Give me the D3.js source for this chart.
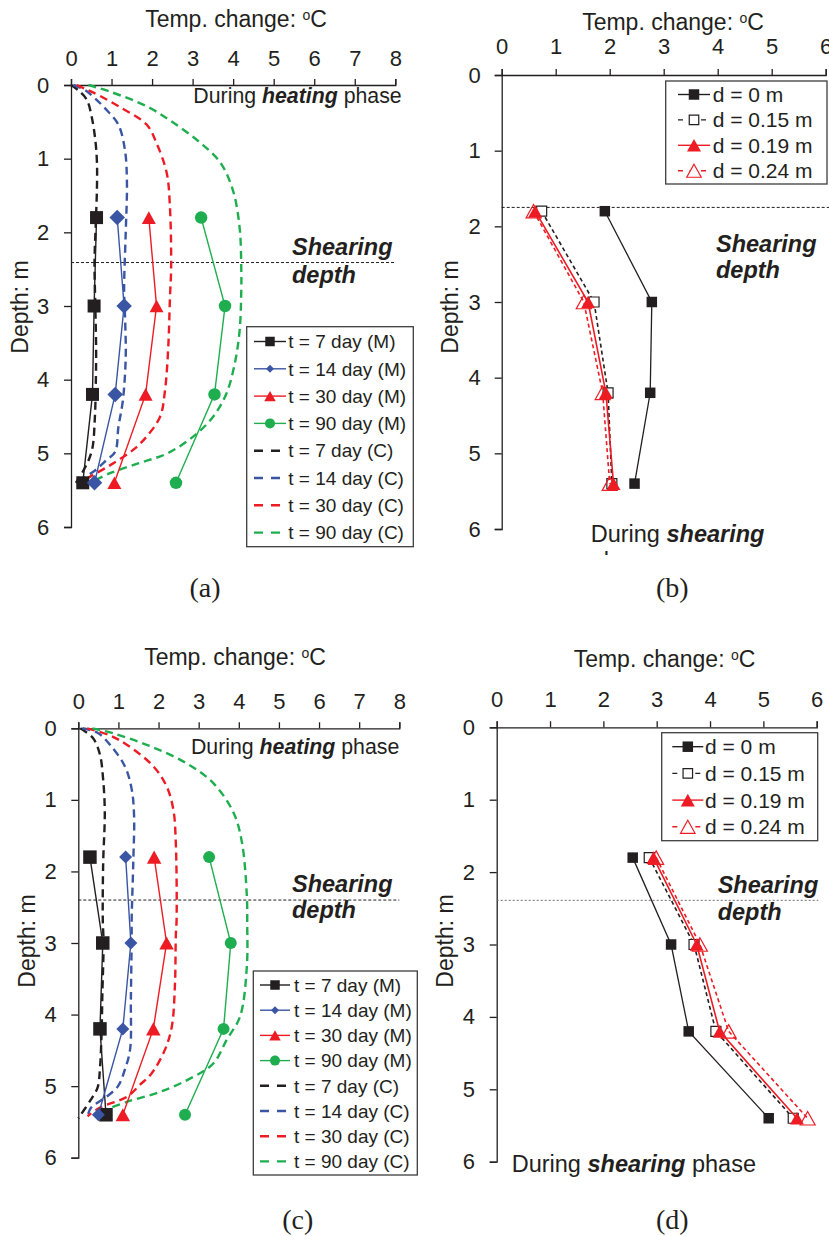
<!DOCTYPE html>
<html>
<head>
<meta charset="utf-8">
<script src="https://cdn.jsdelivr.net/npm/d3@7"></script>
<style>
  html, body { margin: 0; padding: 0; background: #fff; }
  svg { display: block; font-family: "Liberation Sans", Arial, sans-serif; }
</style>
</head>
<body>
<svg id="fig" width="829" height="1236"></svg>
<script>
// ---------------- data ----------------
const depthLevels = [1.8, 3.0, 4.2, 5.4];          // measurement depths (m)
const heatTicksX  = [0, 1, 2, 3, 4, 5, 6, 7, 8];
const shearTicksX = [0, 1, 2, 3, 4, 5, 6];
const depthTicks  = [0, 1, 2, 3, 4, 5, 6];

const heatLegend  = ["t = 7 day (M)", "t = 14 day (M)", "t = 30 day (M)", "t = 90 day (M)",
                     "t = 7 day (C)", "t = 14 day (C)", "t = 30 day (C)", "t = 90 day (C)"];
const shearLegend = ["d = 0 m", "d = 0.15 m", "d = 0.19 m", "d = 0.24 m"];

// (a) measured temperature change at the four depths
const aMeas7  = [0.63, 0.57, 0.53, 0.29];
const aMeas14 = [1.14, 1.31, 1.09, 0.58];
const aMeas30 = [1.92, 2.11, 1.84, 1.07];
const aMeas90 = [3.21, 3.80, 3.54, 2.59];

// (a) computed profiles: [temperature change, depth]
const aCalc7  = [[0.0,0.0],[0.2,0.08],[0.39,0.2],[0.51,0.43],[0.6,0.75],[0.64,1.05],[0.64,1.4],[0.61,1.9],[0.58,2.4],[0.6,3.0],[0.62,3.6],[0.61,4.1],[0.59,4.5],[0.52,4.95],[0.36,5.18],[0.12,5.4]];
const aCalc14 = [[0.06,0.0],[0.35,0.07],[0.59,0.18],[0.88,0.34],[1.17,0.54],[1.33,0.88],[1.38,1.33],[1.35,2.0],[1.31,2.77],[1.33,3.1],[1.35,3.69],[1.28,4.28],[1.17,4.64],[1.09,4.98],[0.88,5.09],[0.55,5.25],[0.1,5.4]];
const aCalc30 = [[0.14,0.0],[0.42,0.07],[0.72,0.15],[1.21,0.3],[1.87,0.54],[2.11,0.79],[2.36,1.19],[2.44,1.65],[2.47,2.47],[2.44,2.9],[2.4,3.55],[2.32,4.14],[2.2,4.5],[1.87,4.77],[1.54,4.95],[0.97,5.16],[0.4,5.34],[0.24,5.4]];
const aCalc90 = [[0.43,0.0],[0.96,0.09],[1.87,0.29],[2.52,0.51],[3.18,0.78],[3.68,1.05],[4.0,1.44],[4.16,1.94],[4.2,2.47],[4.2,2.8],[4.16,3.33],[4.04,3.78],[3.84,4.18],[3.51,4.5],[3.02,4.77],[2.38,5.0],[1.7,5.13],[0.96,5.27],[0.47,5.4]];

// (b) during shearing, distance d from the interface
const bD0  = [1.91, 2.78, 2.75, 2.46];
const bD15 = [0.74, 1.71, 1.97, 2.04];
const bD19 = [0.62, 1.60, 1.93, 2.07];
const bD24 = [0.59, 1.52, 1.87, 2.00];

// (c) measured
const cMeas7  = [0.29, 0.61, 0.54, 0.69];
const cMeas14 = [1.18, 1.31, 1.11, 0.50];
const cMeas30 = [1.89, 2.20, 1.87, 1.11];
const cMeas90 = [3.26, 3.80, 3.62, 2.66];

// (c) computed profiles
const cCalc7  = [[0.05,0.0],[0.37,0.14],[0.54,0.37],[0.62,0.72],[0.66,1.18],[0.62,1.88],[0.61,2.67],[0.63,3.0],[0.6,3.7],[0.58,4.26],[0.54,4.75],[0.48,5.02],[0.3,5.2],[0.0,5.45]];
const cCalc14 = [[0.1,0.0],[0.5,0.07],[0.79,0.23],[1.16,0.53],[1.33,0.85],[1.39,1.22],[1.37,1.87],[1.33,2.67],[1.33,2.9],[1.31,3.79],[1.29,4.49],[1.16,4.77],[0.99,5.0],[0.7,5.15],[0.32,5.3],[0.23,5.42]];
const cCalc30 = [[0.22,0.0],[0.79,0.1],[1.21,0.23],[1.87,0.53],[2.2,0.81],[2.37,1.14],[2.43,1.6],[2.45,2.67],[2.43,2.9],[2.41,3.56],[2.33,4.17],[2.16,4.49],[1.83,4.82],[1.54,4.98],[1.21,5.15],[0.54,5.3],[0.23,5.42]];
const cCalc90 = [[0.35,0.0],[0.87,0.07],[1.79,0.25],[2.7,0.49],[3.37,0.77],[3.87,1.18],[4.08,1.6],[4.2,2.34],[4.21,2.72],[4.2,3.33],[4.03,4.03],[3.7,4.35],[3.37,4.68],[2.87,4.87],[2.04,5.08],[1.21,5.22],[0.54,5.36]];

// (d) during shearing
const dD0  = [2.55, 3.27, 3.60, 5.10];
const dD15 = [2.86, 3.70, 4.11, 5.56];
const dD19 = [2.94, 3.75, 4.18, 5.63];
const dD24 = [2.99, 3.81, 4.35, 5.83];

// ---------------- styling ----------------
const INK = "#231f20", BLUE = "#3a55a4", RED = "#ed1c24", GREEN = "#1fae4f";

// marker shapes for d3.symbol; "size" is the squared bounding width
const symSquare = { draw(ctx, size) { const s = Math.sqrt(size) / 2; ctx.rect(-s, -s, 2 * s, 2 * s); } };
const symDiamond = { draw(ctx, size) { const r = Math.sqrt(size) / 2; ctx.moveTo(0, -r); ctx.lineTo(r, 0); ctx.lineTo(0, r); ctx.lineTo(-r, 0); ctx.closePath(); } };
const symTriangle = { draw(ctx, size) { const w = Math.sqrt(size), h = w * 0.9; ctx.moveTo(0, -h / 2); ctx.lineTo(w / 2, h / 2); ctx.lineTo(-w / 2, h / 2); ctx.closePath(); } };
const symCircle = { draw(ctx, size) { const r = Math.sqrt(size) / 2; ctx.moveTo(r, 0); ctx.arc(0, 0, r, 0, 2 * Math.PI); } };

const svg = d3.select("#fig");
svg.append("rect").attr("width", 829).attr("height", 1236).attr("fill", "#fff");

function axes(g, P) {
  const xa = g.append("g").attr("transform", `translate(0,${P.y0})`)
    .call(d3.axisTop(P.x).tickValues(P.xTicks).tickSize(6).tickPadding(P.xPad).tickFormat(d3.format("d")));
  const ya = g.append("g").attr("transform", `translate(${P.x0},0)`)
    .call(d3.axisLeft(P.y).tickValues(depthTicks).tickSize(7).tickPadding(P.yPad).tickFormat(d3.format("d")));
  [xa, ya].forEach(a => {
    a.attr("font-family", null).attr("font-size", 22);
    a.selectAll("path, line").attr("stroke", INK).attr("stroke-width", 1.3);
    a.selectAll("text").attr("fill", INK);
  });

  const t = g.append("text").attr("x", P.titleX).attr("y", P.titleY)
    .attr("text-anchor", "middle").attr("font-size", 23).attr("fill", INK);
  t.append("tspan").text("Temp. change: ");
  t.append("tspan").attr("font-size", 14).attr("dy", -7).text("o");
  t.append("tspan").attr("dy", 7).text("C");

  g.append("text").attr("transform", `translate(${P.ylabX},${P.ylabY}) rotate(-90)`)
    .attr("text-anchor", "middle").attr("font-size", 23).attr("fill", INK).text("Depth: m");

  // shearing depth marker
  g.append("line").attr("x1", P.x0).attr("x2", P.shearX2)
    .attr("y1", P.y(P.shearDepth)).attr("y2", P.y(P.shearDepth))
    .attr("stroke", P.shearColor).attr("stroke-width", 1).attr("stroke-dasharray", P.shearDash);
  const st = g.append("g").attr("font-size", 23.5).attr("font-weight", "bold").attr("font-style", "italic").attr("fill", INK);
  st.append("text").attr("x", P.shearTextX).attr("y", P.shearTextY1).text("Shearing");
  st.append("text").attr("x", P.shearTextX).attr("y", P.shearTextY2).text("depth");

  g.append("text").attr("x", P.letterX).attr("y", P.letterY).attr("text-anchor", "middle")
    .attr("font-family", "'Liberation Serif', 'Times New Roman', serif").attr("font-size", 28)
    .attr("fill", INK).text(P.letter);
}

function phaseNote(g, x, y, size, anchor, word, rest) {
  const t = g.append("text").attr("x", x).attr("y", y).attr("text-anchor", anchor)
    .attr("font-size", size).attr("fill", INK);
  t.append("tspan").text("During ");
  t.append("tspan").attr("font-weight", "bold").attr("font-style", "italic").text(word);
  if (rest) t.append("tspan").text(rest);
  return t;
}

function heatPanel(P, meas, calc) {
  const g = svg.append("g");
  P.x = d3.scaleLinear().domain([0, 8]).range([P.x0, P.x1]);
  P.y = d3.scaleLinear().domain([0, 6]).range([P.y0, P.y1]);
  axes(g, P);
  phaseNote(g, P.noteX, P.noteY, 21.3, "end", "heating", " phase");

  const colors = [INK, BLUE, RED, GREEN];
  const syms = [symSquare, symDiamond, symTriangle, symCircle];

  // computed profiles (dashed)
  const curve = d3.line().x(d => P.x(d[0])).y(d => P.y(d[1])).curve(d3.curveCatmullRom.alpha(0.5));
  calc.forEach((c, i) => {
    g.append("path").attr("d", curve(c)).attr("fill", "none").attr("stroke", colors[i])
      .attr("stroke-width", 2.4).attr("stroke-dasharray", "8,5");
  });

  // measured profiles (solid with markers)
  const line = d3.line().x(d => P.x(d.v)).y(d => P.y(d.z));
  meas.forEach((m, i) => {
    const pts = m.map((v, k) => ({ v, z: depthLevels[k] }));
    g.append("path").attr("d", line(pts)).attr("fill", "none").attr("stroke", colors[i]).attr("stroke-width", 1.4);
    g.selectAll(null).data(pts).enter().append("path")
      .attr("transform", d => `translate(${P.x(d.v)},${P.y(d.z)})`)
      .attr("d", d3.symbol().type(syms[i]).size(P.markerW[i] ** 2)())
      .attr("fill", colors[i]);
  });

  // legend
  const L = P.legend;
  const lg = g.append("g");
  lg.append("rect").attr("x", L.x0).attr("y", L.y0).attr("width", L.x1 - L.x0).attr("height", L.y1 - L.y0)
    .attr("fill", "#fff").attr("stroke", "#3d3d3d").attr("stroke-width", 1.3);
  heatLegend.forEach((name, i) => {
    const cy = L.row0 + i * L.step, c = colors[i % 4];
    if (i < 4) {
      lg.append("line").attr("x1", L.lx0).attr("x2", L.lx1).attr("y1", cy).attr("y2", cy)
        .attr("stroke", c).attr("stroke-width", 1.4);
      lg.append("path").attr("transform", `translate(${(L.lx0 + L.lx1) / 2},${cy})`)
        .attr("d", d3.symbol().type(syms[i]).size(L.markerW[i] ** 2)()).attr("fill", c);
    } else {
      lg.append("line").attr("x1", L.lx0).attr("x2", L.lx1).attr("y1", cy).attr("y2", cy)
        .attr("stroke", c).attr("stroke-width", 2.4).attr("stroke-dasharray", "9,8");
    }
    lg.append("text").attr("x", L.tx).attr("y", cy + 6.7).attr("font-size", 19).attr("fill", INK).text(name);
  });
}

function shearPanel(P, series) {
  const g = svg.append("g");
  P.x = d3.scaleLinear().domain([0, 6]).range([P.x0, P.x1]);
  P.y = d3.scaleLinear().domain([0, 6]).range([P.y0, P.y1]);
  axes(g, P);

  const styles = [
    { color: INK, dash: null, sym: symSquare, fill: INK, w: 10.5, lw: 1.3 },
    { color: INK, dash: "4,3", sym: symSquare, fill: "#fff", w: 10, lw: 1.6 },
    { color: RED, dash: null, sym: symTriangle, fill: RED, w: 14, lw: 1.6 },
    { color: RED, dash: "4,3", sym: symTriangle, fill: "none", w: 15, lw: 1.6 }
  ];
  const line = d3.line().x(d => P.x(d.v)).y(d => P.y(d.z));
  series.forEach((s, i) => {
    const st = styles[i];
    const pts = s.map((v, k) => ({ v, z: depthLevels[k] }));
    g.append("path").attr("d", line(pts)).attr("fill", "none").attr("stroke", st.color)
      .attr("stroke-width", st.lw).attr("stroke-dasharray", st.dash);
    g.selectAll(null).data(pts).enter().append("path")
      .attr("transform", d => `translate(${P.x(d.v)},${P.y(d.z)})`)
      .attr("d", d3.symbol().type(st.sym).size(st.w ** 2)())
      .attr("fill", st.fill).attr("stroke", st.fill === INK || st.fill === RED ? "none" : st.color)
      .attr("stroke-width", 1.2);
  });

  const L = P.legend;
  const lg = g.append("g");
  lg.append("rect").attr("x", L.x0).attr("y", L.y0).attr("width", L.x1 - L.x0).attr("height", L.y1 - L.y0)
    .attr("fill", "#fff").attr("stroke", "#3d3d3d").attr("stroke-width", 1.3);
  shearLegend.forEach((name, i) => {
    const cy = L.row0 + i * L.step, st = styles[i];
    lg.append("line").attr("x1", L.lx0).attr("x2", L.lx1).attr("y1", cy).attr("y2", cy)
      .attr("stroke", st.color).attr("stroke-width", 1.4).attr("stroke-dasharray", st.dash ? "5,6.5" : null);
    lg.append("path").attr("transform", `translate(${(L.lx0 + L.lx1) / 2},${cy})`)
      .attr("d", d3.symbol().type(st.sym).size((i % 2 ? st.w - 0.5 : st.w) ** 2)())
      .attr("fill", st.fill === "none" ? "#fff" : st.fill)
      .attr("stroke", st.fill === INK || st.fill === RED ? "none" : st.color).attr("stroke-width", 1.2);
    lg.append("text").attr("x", L.tx).attr("y", cy + 7.4).attr("font-size", 21).attr("fill", INK).text(name);
  });
  return g;
}

// ---------------- panels ----------------
heatPanel({
  x0: 71, x1: 395.3, y0: 85, y1: 527, xTicks: heatTicksX, xPad: 13, yPad: 14.7,
  titleX: 236, titleY: 27.3, ylabX: 28.3, ylabY: 307,
  shearDepth: 2.41, shearX2: 395.3, shearColor: INK, shearDash: "3,2",
  shearTextX: 292, shearTextY1: 255, shearTextY2: 282.7,
  noteX: 401.7, noteY: 103.3,
  letter: "(a)", letterX: 205, letterY: 597,
  markerW: [13, 15.5, 14, 12.5],
  legend: { x0: 246.7, x1: 413.3, y0: 326.7, y1: 546.7, row0: 341.5, step: 27.3,
            lx0: 254, lx1: 286, tx: 288.3, markerW: [9.5, 8, 11.5, 10] }
}, [aMeas7, aMeas14, aMeas30, aMeas90], [aCalc7, aCalc14, aCalc30, aCalc90]);

const gb = shearPanel({
  x0: 501.7, x1: 825.7, y0: 75, y1: 529, xTicks: shearTicksX, xPad: 15, yPad: 14,
  titleX: 673, titleY: 30, ylabX: 458.3, ylabY: 307,
  shearDepth: 1.75, shearX2: 829, shearColor: INK, shearDash: "3,2",
  shearTextX: 716, shearTextY1: 252, shearTextY2: 278,
  letter: "(b)", letterX: 672.3, letterY: 597,
  legend: { x0: 665.7, x1: 827, y0: 81, y1: 184, row0: 94.5, step: 25.4,
            lx0: 678, lx1: 710, tx: 712.7 }
}, [bD0, bD15, bD19, bD24]);
// caption of (b): second line is cut off by the plot frame
gb.append("clipPath").attr("id", "clipB").append("rect").attr("x", 560).attr("y", 500).attr("width", 260).attr("height", 55);
const nb = gb.append("g").attr("clip-path", "url(#clipB)");
phaseNote(nb, 590.7, 541.7, 23.5, "start", "shearing", null);
nb.append("text").attr("x", 590.7).attr("y", 569).attr("font-size", 23.5).attr("fill", INK).text("phase");

heatPanel({
  x0: 78.3, x1: 399.3, y0: 728.3, y1: 1157.7, xTicks: heatTicksX, xPad: 13.3, yPad: 14.6,
  titleX: 235, titleY: 665, ylabX: 35, ylabY: 941,
  shearDepth: 2.4, shearX2: 399.3, shearColor: INK, shearDash: "3,2",
  shearTextX: 292, shearTextY1: 891.7, shearTextY2: 918,
  noteX: 399.3, noteY: 754,
  letter: "(c)", letterX: 297.7, letterY: 1229,
  markerW: [13.5, 13, 14.5, 12],
  legend: { x0: 253.3, x1: 417.3, y0: 971, y1: 1175, row0: 985, step: 25.2,
            lx0: 260, lx1: 290, tx: 294, markerW: [9.5, 8, 11.5, 10] }
}, [cMeas7, cMeas14, cMeas30, cMeas90], [cCalc7, cCalc14, cCalc30, cCalc90]);

const gd = shearPanel({
  x0: 496.7, x1: 816.7, y0: 727.3, y1: 1161.7, xTicks: shearTicksX, xPad: 14, yPad: 14.7,
  titleX: 664.5, titleY: 667.3, ylabX: 453.3, ylabY: 941,
  shearDepth: 2.39, shearX2: 818.3, shearColor: "#6d6d6d", shearDash: "2,2",
  shearTextX: 717.7, shearTextY1: 893.3, shearTextY2: 920,
  letter: "(d)", letterX: 672.3, letterY: 1229,
  legend: { x0: 661.7, x1: 817.7, y0: 732.7, y1: 840.7, row0: 746.7, step: 26.7,
            lx0: 672.3, lx1: 703.3, tx: 705 }
}, [dD0, dD15, dD19, dD24]);
phaseNote(gd, 511.7, 1171.7, 23.5, "start", "shearing", " phase");
</script>
</body>
</html>
